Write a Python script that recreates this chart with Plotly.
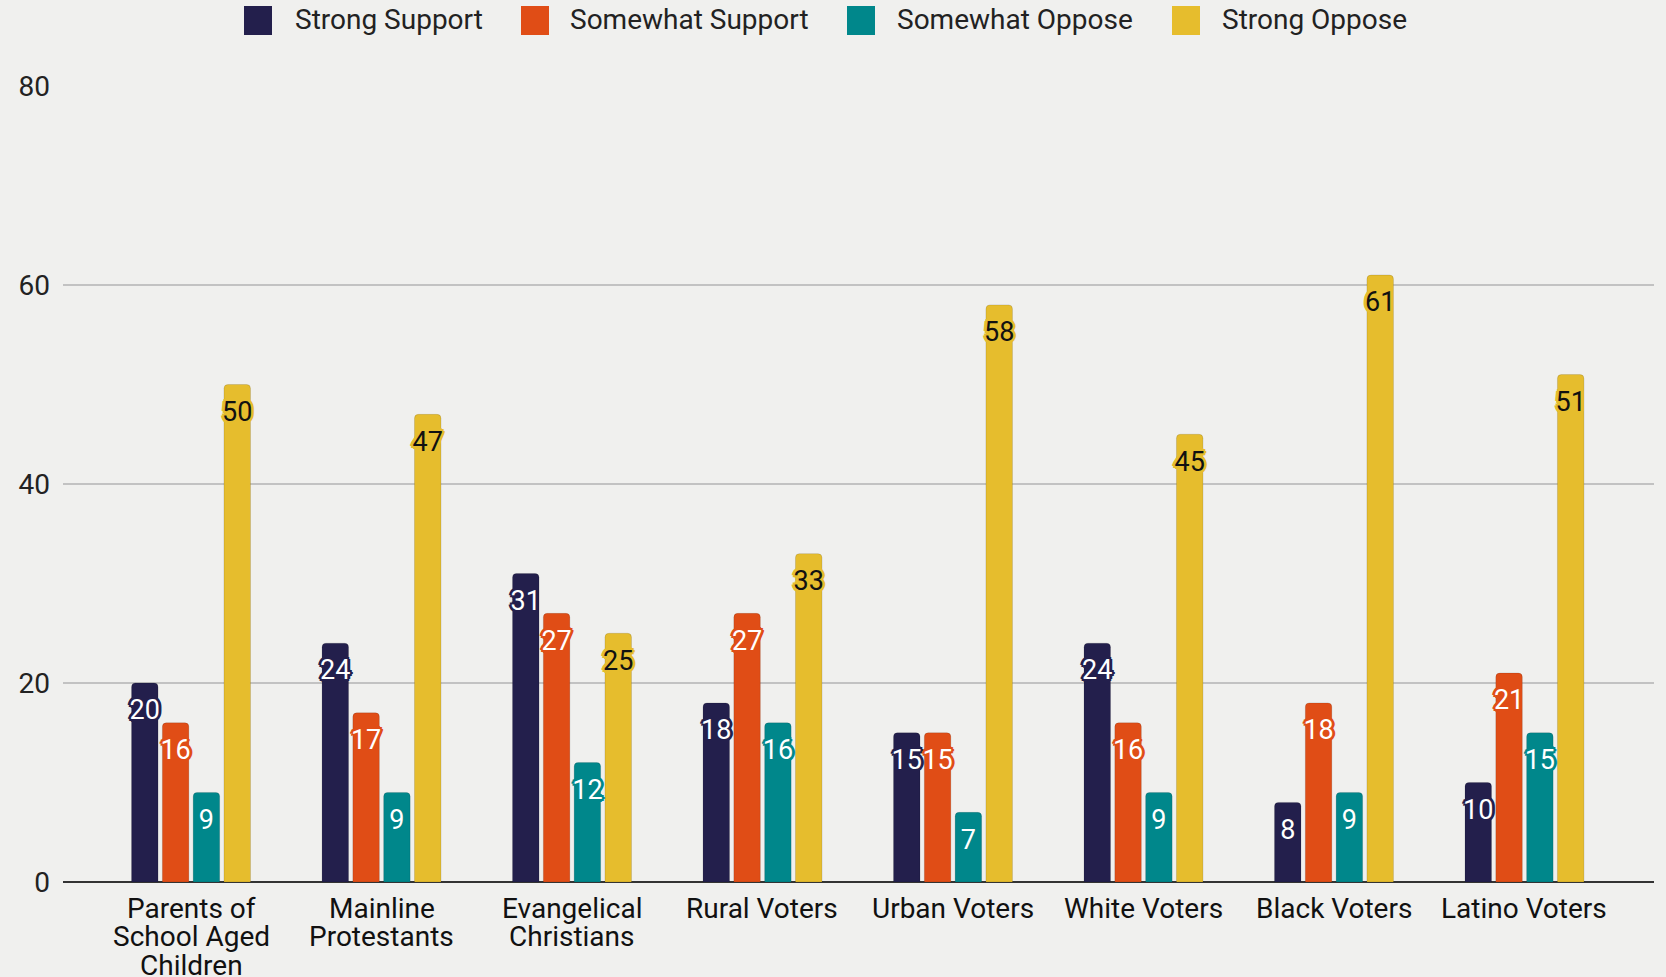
import plotly.graph_objects as go

categories = ["Parents of\nSchool Aged\nChildren", "Mainline\nProtestants", "Evangelical\nChristians",
              "Rural Voters", "Urban Voters", "White Voters", "Black Voters", "Latino Voters"]
series_names = ["Strong Support", "Somewhat Support", "Somewhat Oppose", "Strong Oppose"]
strong_support = [20, 24, 31, 18, 15, 24, 8, 10]
somewhat_support = [16, 17, 27, 27, 15, 16, 18, 21]
somewhat_oppose = [9, 9, 12, 16, 7, 9, 9, 15]
strong_oppose = [50, 47, 25, 33, 58, 45, 61, 51]
y_ticks = [0, 20, 40, 60, 80]

colors = ["#231f4c", "#e04d16", "#00878b", "#e6bd2d"]
label_colors = ["#ffffff", "#ffffff", "#ffffff", "#111111"]
values = [strong_support, somewhat_support, somewhat_oppose, strong_oppose]

W, H = 1666, 977
ML, MR, MT, MB = 63, 12, 86, 95
PW, PH = W - ML - MR, H - MT - MB
BG = "#f0f0ee"
FONT = "Roboto, Arial, sans-serif"
GAP = 0.353

cat_keys = [c.replace("\n", " ") for c in categories]

def shadow(c):
    offs = [(-3, 0), (3, 0), (0, -3), (0, 3), (-2, -2), (2, -2), (-2, 2), (2, 2)]
    return ", ".join(f"{dx}px {dy}px 0 {c}" for dx, dy in offs)

fig = go.Figure()
for i, (name, vals, col) in enumerate(zip(series_names, values, colors)):
    fig.add_trace(go.Bar(
        x=cat_keys, y=vals, name=name, offsetgroup=str(i),
        marker=dict(color=col, line=dict(width=1, color="rgba(0,0,0,0.12)")),
        showlegend=False, hoverinfo="x+y+name",
    ))
for i, (name, vals, col, lcol) in enumerate(zip(series_names, values, colors, label_colors)):
    fig.add_trace(go.Scatter(
        x=cat_keys, y=vals, name=name, offsetgroup=str(i),
        mode="markers+text", text=[str(v) for v in vals], textposition="bottom center",
        marker=dict(size=24, opacity=0, color=col),
        textfont=dict(family=FONT, size=27, color=lcol, shadow=shadow(col)),
        showlegend=False, hoverinfo="skip", cliponaxis=False,
    ))

annotations = []
for key, cat in zip(cat_keys, categories):
    for i, line in enumerate(cat.split("\n")):
        annotations.append(dict(
            x=key, y=0, xref="x", yref="y", text=line, showarrow=False,
            yshift=-(26 + 28.5 * i), yanchor="middle", xanchor="center",
            font=dict(family=FONT, size=28, color="#111111"),
        ))

# manual legend (pixel layout converted to paper coords)
def px(xp):
    return (xp - ML) / PW

def py(yp):
    return (H - MB - yp) / PH

legend_marker_left = [244, 521, 847, 1172]
legend_text_left = [293, 568, 895, 1220]
shapes = []
for name, col, ml, tl in zip(series_names, colors, legend_marker_left, legend_text_left):
    shapes.append(dict(type="rect", xref="paper", yref="paper",
                       x0=px(ml), x1=px(ml + 28), y0=py(35), y1=py(6),
                       fillcolor=col, line=dict(width=0)))
    annotations.append(dict(x=px(tl), y=py(20), xref="paper", yref="paper", text=name,
                            showarrow=False, xanchor="left", yanchor="middle",
                            font=dict(family=FONT, size=28, color="#222222")))

fig.update_layout(
    width=W, height=H,
    margin=dict(l=ML, r=MR, t=MT, b=MB),
    paper_bgcolor=BG, plot_bgcolor=BG,
    barmode="group", bargap=GAP, bargroupgap=0.14, barcornerradius=4,
    scattermode="group", scattergap=GAP,
    font=dict(family=FONT, size=28, color="#222222"),
    xaxis=dict(type="category", range=[-0.672, 7.68], showgrid=False,
               showticklabels=False, ticks="", showline=False, zeroline=False),
    yaxis=dict(range=[0, 80], tickvals=y_ticks, showgrid=True, gridcolor="#c2c2c2",
               gridwidth=2, zeroline=True, zerolinecolor="#333333", zerolinewidth=2,
               ticks="", ticklabelstandoff=12, tickfont=dict(family=FONT, size=28, color="#222222")),
    annotations=annotations, shapes=shapes,
)

fig.write_html("out.html", config={"displayModeBar": False},
               post_script="document.body.style.margin='0';document.body.style.overflow='hidden';")
